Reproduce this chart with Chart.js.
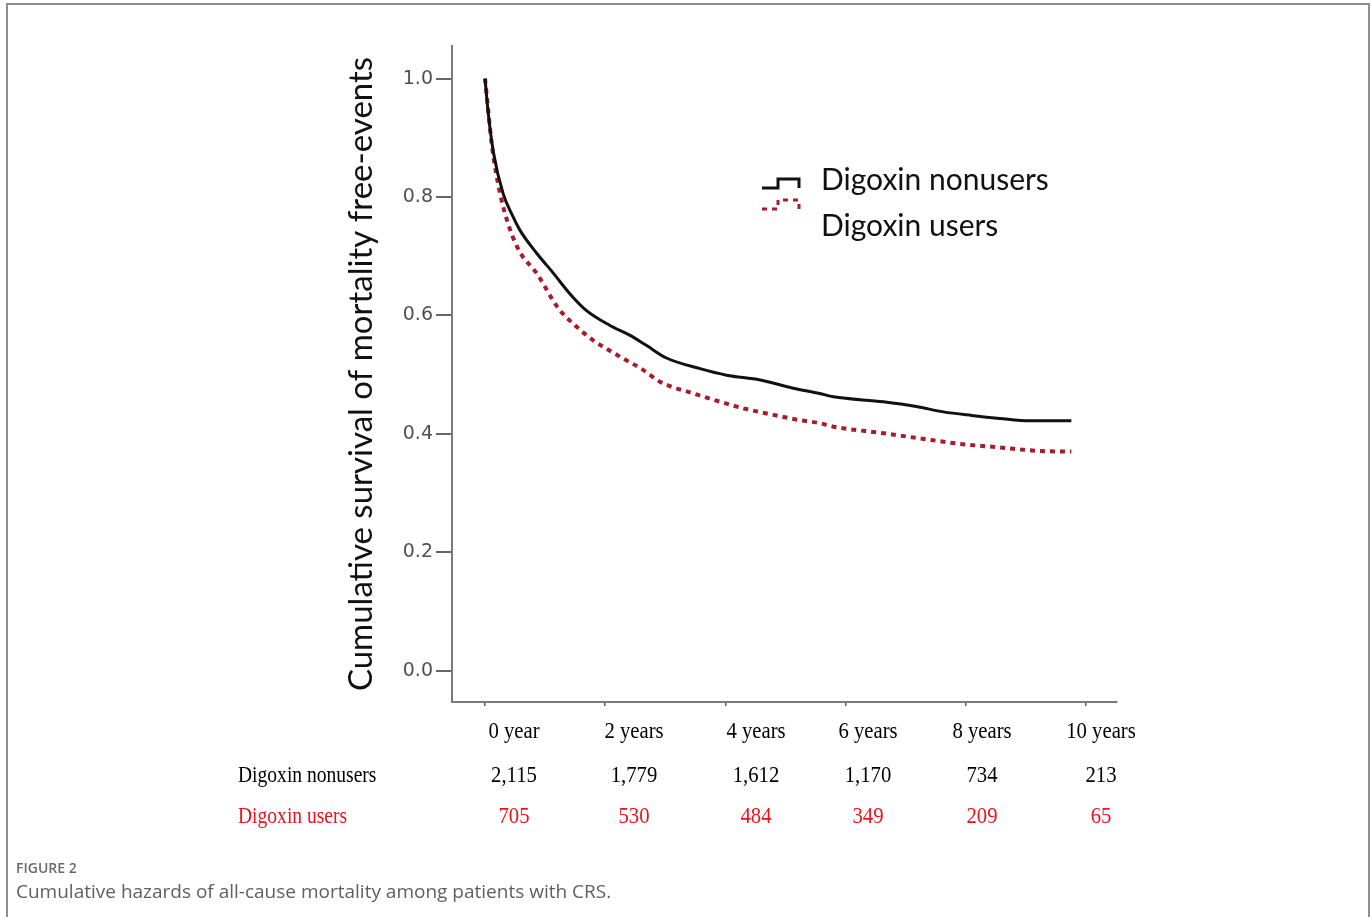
<!DOCTYPE html>
<html lang="en">
  <head>
    <meta charset="UTF-8" />
    <title>Figure 2 - Cumulative survival</title>
    <script src="https://cdn.jsdelivr.net/npm/chart.js"></script>
    <style>
      body {
        margin: 0;
        background: #fff;
        width: 1372px;
        height: 917px;
        overflow: hidden;
        position: relative;
      }
      .frame {
        position: absolute;
        left: 6px;
        top: 3px;
        width: 1364px;
        height: 1000px;
        border: 2px solid #8e8e8e;
        box-sizing: border-box;
      }
      #survivalChart {
        position: absolute;
        left: 0;
        top: 0;
      }
      .cell {
        position: absolute;
        font-family: "Liberation Serif", "Times New Roman", serif;
        font-size: 23px;
        white-space: nowrap;
        transform: translate(-50%, -50%) scaleX(0.9);
      }
      .rowlabel {
        position: absolute;
        font-family: "Liberation Serif", "Times New Roman", serif;
        font-size: 23px;
        white-space: nowrap;
        transform-origin: left center;
        transform: translateY(-50%) scaleX(0.85);
      }
      .red {
        color: #e8141c;
      }
      .fig-label {
        position: absolute;
        left: 16px;
        top: 858px;
        font-family: "Open Sans", sans-serif;
        font-size: 14px;
        font-weight: 600;
        color: #6a6a6a;
      }
      .fig-caption {
        position: absolute;
        left: 16px;
        top: 878px;
        font-family: "Open Sans", sans-serif;
        font-size: 19px;
        color: #5f5f5f;
      }
    </style>
  </head>
  <body>
    <div class="frame"></div>
    <canvas id="survivalChart" width="1372" height="917"></canvas>
    <div id="riskTable"></div>
    <div class="fig-label">FIGURE 2</div>
    <div class="fig-caption">
      Cumulative hazards of all-cause mortality among patients with CRS.
    </div>

    <script>
      // Kaplan-Meier curves (years, survival)
      const nonusersYears = [
        0, 0.05, 0.14, 0.3, 0.45, 0.58, 0.86, 1.14, 1.4, 1.69, 2.08, 2.4,
        2.69, 3.02, 3.58, 4.02, 4.58, 5.13, 5.57, 5.8, 6.63, 7.18, 7.63, 8.1,
        8.57, 9.07, 9.76,
      ];
      const nonusersSurvival = [
        1.0, 0.945, 0.875, 0.806, 0.77, 0.744, 0.705, 0.671, 0.638, 0.608,
        0.583, 0.567, 0.549, 0.528, 0.51, 0.499, 0.491, 0.477, 0.468, 0.4625,
        0.454, 0.446, 0.437, 0.431, 0.426, 0.422, 0.422,
      ];
      const usersYears = [
        0, 0.03, 0.11, 0.25, 0.42, 0.58, 0.86, 1.22, 1.5, 1.8, 2.2, 2.63,
        2.91, 3.47, 4.02, 4.3, 4.8, 5.24, 5.57, 5.8, 6.63, 7.46, 7.9, 8.57,
        9.23, 9.76,
      ];
      const usersSurvival = [
        1.0, 0.97, 0.89, 0.806, 0.744, 0.707, 0.671, 0.612, 0.583, 0.558,
        0.533, 0.508, 0.488, 0.468, 0.451, 0.443, 0.432, 0.423, 0.418, 0.412,
        0.401, 0.389, 0.383, 0.377, 0.371, 0.37,
      ];

      const yTickValues = [0, 0.2, 0.4, 0.6, 0.8, 1.0];
      const xTickValues = [0, 2, 4, 6, 8, 10];

      // number at risk table
      const yearLabels = ["0 year", "2 years", "4 years", "6 years", "8 years", "10 years"];
      const nonusersAtRisk = ["2,115", "1,779", "1,612", "1,170", "734", "213"];
      const usersAtRisk = ["705", "530", "484", "349", "209", "65"];

      // layout of the table / legend (pixels)
      const columnCenters = [514, 634, 756, 868, 982, 1101];
      const tableRows = [731, 775, 816];
      const legendSpots = [
        { low: 188, high: 179, textY: 180 },
        { low: 209, high: 200, textY: 226 },
      ];

      const table = document.getElementById("riskTable");
      function addCell(text, x, y, cls) {
        const d = document.createElement("div");
        d.className = cls;
        d.textContent = text;
        d.style.left = x + "px";
        d.style.top = y + "px";
        table.appendChild(d);
      }
      yearLabels.forEach((t, i) => addCell(t, columnCenters[i], tableRows[0], "cell"));
      addCell("Digoxin nonusers", 238, tableRows[1], "rowlabel");
      nonusersAtRisk.forEach((t, i) => addCell(t, columnCenters[i], tableRows[1], "cell"));
      addCell("Digoxin users", 238, tableRows[2], "rowlabel red");
      usersAtRisk.forEach((t, i) => addCell(t, columnCenters[i], tableRows[2], "cell red"));

      const toPoints = (xs, ys) => xs.map((x, i) => ({ x: x, y: ys[i] }));

      // legend drawn as little step lines, like the KM plot key
      const stepLegend = {
        id: "stepLegend",
        afterDraw(chart) {
          const ctx = chart.ctx;
          chart.data.datasets.forEach((ds, i) => {
            const s = legendSpots[i];
            const x0 = 762;
            ctx.save();
            ctx.strokeStyle = ds.borderColor;
            ctx.lineWidth = 3;
            ctx.setLineDash(ds.borderDash || []);
            ctx.beginPath();
            ctx.moveTo(x0, s.low);
            ctx.lineTo(x0 + 16, s.low);
            ctx.lineTo(x0 + 16, s.high);
            ctx.lineTo(x0 + 37, s.high);
            ctx.lineTo(x0 + 37, s.low);
            ctx.stroke();
            ctx.setLineDash([]);
            ctx.fillStyle = "#111";
            ctx.font = "30px Lato";
            ctx.textBaseline = "middle";
            ctx.fillText(ds.label, 821, s.textY);
            ctx.restore();
          });
        },
      };

      new Chart(document.getElementById("survivalChart"), {
        type: "line",
        data: {
          datasets: [
            {
              label: "Digoxin nonusers",
              data: toPoints(nonusersYears, nonusersSurvival),
              borderColor: "#111111",
              borderWidth: 3,
              pointRadius: 0,
              cubicInterpolationMode: "monotone",
              fill: false,
            },
            {
              label: "Digoxin users",
              data: toPoints(usersYears, usersSurvival),
              borderColor: "#a81b2a",
              borderWidth: 4,
              borderDash: [5, 5],
              pointRadius: 0,
              cubicInterpolationMode: "monotone",
              fill: false,
            },
          ],
        },
        options: {
          responsive: false,
          animation: false,
          layout: {
            padding: { left: 338, right: 255, top: 46, bottom: 0 },
          },
          plugins: {
            legend: { display: false },
            tooltip: { enabled: false },
          },
          scales: {
            x: {
              type: "linear",
              min: -0.55,
              max: 10.52,
              afterBuildTicks: (axis) => {
                axis.ticks = xTickValues.map((v) => ({ value: v }));
              },
              afterFit: (axis) => {
                axis.height = 215;
              },
              ticks: { display: false },
              grid: {
                drawOnChartArea: false,
                drawTicks: true,
                tickLength: 4,
                color: "#555",
                lineWidth: 1.5,
              },
              border: { display: true, color: "#7a7a7a", width: 2 },
            },
            y: {
              min: -0.053,
              max: 1.055,
              afterBuildTicks: (axis) => {
                axis.ticks = yTickValues.map((v) => ({ value: v }));
              },
              afterFit: (axis) => {
                axis.width = 114;
              },
              ticks: {
                padding: 3,
                color: "#505050",
                font: { family: "DejaVu Sans", size: 19 },
                callback: (v) => Number(v).toFixed(1),
              },
              grid: {
                drawOnChartArea: false,
                drawTicks: true,
                tickLength: 16,
                color: "#666",
                lineWidth: 2,
              },
              border: { display: true, color: "#7a7a7a", width: 2 },
              title: {
                display: true,
                text: "Cumulative survival of mortality free-events",
                color: "#111",
                font: { family: "Lato", size: 33 },
                padding: { top: 4, bottom: 0 },
              },
            },
          },
        },
        plugins: [stepLegend],
      });
    </script>
  </body>
</html>
